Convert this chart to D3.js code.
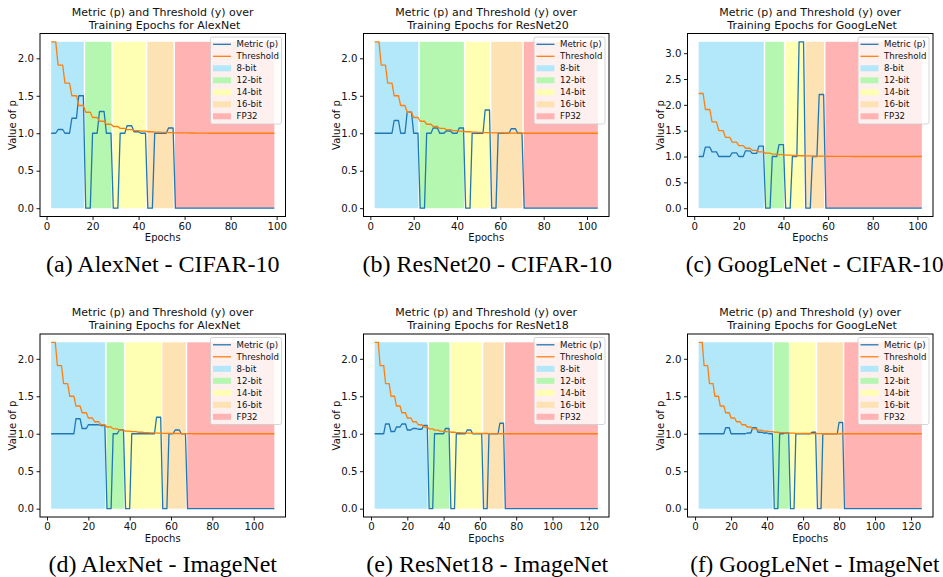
<!DOCTYPE html>
<html><head><meta charset="utf-8">
<script src="https://cdn.jsdelivr.net/npm/d3@7"></script>
<style>body{margin:0;background:#fff}svg{display:block}</style>
</head><body>
<svg id="chart" width="943" height="577"></svg>
<script>
// ---------------- data ----------------
const precisionLabels = ["8-bit", "12-bit", "14-bit", "16-bit", "FP32"];
const seriesLabels = ["Metric (p)", "Threshold"];
const firstEpoch = 2;
const epochsPerStep = 3;
// threshold value held for each 3-epoch step (shared by all runs)
const thresholdLevels = [2.22, 1.91, 1.67, 1.50, 1.37, 1.28, 1.21, 1.16, 1.12, 1.09, 1.065, 1.048, 1.036, 1.027, 1.02, 1.015, 1.011, 1.008, 1.006, 1.004, 1.003, 1.002, 1.001];
const thresholdFloor = 1.0;

// last epoch of each precision phase (8,12,14,16-bit, FP32 = final epoch)
const lastEpochA = [16, 28, 43, 55, 99];
const lastEpochB = [22, 43, 55, 70, 105];
const lastEpochC = [31, 40, 49, 58, 102];
const lastEpochD = [28, 37, 55, 67, 110];
const lastEpochE = [31, 43, 61, 73, 125];
const lastEpochF = [43, 52, 67, 82, 126];

// metric p for each 3-epoch step (0 afterwards, in FP32)
const metricA = [1.0, 1.05, 1.0, 1.2, 1.5, 0, 1.0, 1.29, 1.0, 0, 1.0, 1.1, 1.02, 1.0, 0, 1.0, 1.0, 1.07];
const metricB = [1.0, 1.0, 1.0, 1.17, 1.0, 1.28, 1.0, 0, 1.0, 1.07, 1.0, 1.03, 1.0, 1.07, 0, 1.0, 1.0, 1.31, 0, 1.0, 1.0, 1.06, 1.0];
const metricC = [1.0, 1.18, 1.09, 1.0, 1.0, 1.07, 1.0, 1.11, 1.06, 1.2, 0, 1.0, 1.23, 0, 1.0, 3.22, 0, 1.0, 2.2];
const metricD = [1.0, 1.0, 1.0, 1.0, 1.2, 1.07, 1.12, 1.12, 1.11, 0, 1.0, 1.05, 0, 1.0, 1.0, 1.0, 1.0, 1.22, 0, 1.0, 1.05, 1.0];
const metricE = [1.0, 1.0, 1.13, 1.03, 1.09, 1.13, 1.05, 1.07, 1.06, 1.11, 0, 1.0, 1.0, 1.07, 0, 1.0, 1.0, 1.05, 1.0, 1.0, 0, 1.0, 1.0, 1.14];
const metricF = [1.0, 1.0, 1.0, 1.0, 1.0, 1.08, 1.0, 1.0, 1.0, 1.01, 1.08, 1.02, 1.01, 1.0, 0, 1.0, 1.01, 0, 1.0, 1.0, 1.0, 1.02, 0, 1.0, 1.0, 1.0, 1.15];

const modelNames = ["AlexNet", "ResNet20", "GoogLeNet", "AlexNet", "ResNet18", "GoogLeNet"];
const captions = ["(a) AlexNet - CIFAR-10", "(b) ResNet20 - CIFAR-10", "(c) GoogLeNet - CIFAR-10",
                  "(d) AlexNet - ImageNet", "(e) ResNet18 - ImageNet", "(f) GoogLeNet - ImageNet"];
const xTicksShort = [0, 20, 40, 60, 80, 100];
const xTicksLong = [0, 20, 40, 60, 80, 100, 120];
const yTicksLow = [0, 0.5, 1.0, 1.5, 2.0];
const yTicksHigh = [0, 0.5, 1.0, 1.5, 2.0, 2.5, 3.0];

// ---------------- styles / layout ----------------
const spanColors = ["#b3e7fa", "#b5f7b0", "#ffffb3", "#fde2b3", "#ffb3b3"];
const lineColors = ["#1f77b4", "#ff7f0e"];
const colLeft = [40, 363.5, 687.5];
const rowTop = [33.5, 334];
const captionShift = [0, 1, 4.5];
const captionSize = [24, 24, 23.2];
const axW = 245.5, axH = 183;
const sansFont = "DejaVu Sans";

const panels = [
  {last: lastEpochA, metric: metricA, xTicks: xTicksShort, yTicks: yTicksLow},
  {last: lastEpochB, metric: metricB, xTicks: xTicksShort, yTicks: yTicksLow},
  {last: lastEpochC, metric: metricC, xTicks: xTicksShort, yTicks: yTicksHigh},
  {last: lastEpochD, metric: metricD, xTicks: xTicksShort, yTicks: yTicksLow},
  {last: lastEpochE, metric: metricE, xTicks: xTicksLong, yTicks: yTicksLow},
  {last: lastEpochF, metric: metricF, xTicks: xTicksLong, yTicks: yTicksLow}
];

const svg = d3.select("#chart");

panels.forEach((p, idx) => {
  const col = idx % 3, row = Math.floor(idx / 3);
  const L = colLeft[col], T = rowTop[row], R = L + axW, B = T + axH;
  const endEpoch = p.last[4];
  const epochs = d3.range(firstEpoch, endEpoch + 1);
  const stepOf = e => Math.floor((e - firstEpoch) / epochsPerStep);
  const metricVals = epochs.map(e => { const k = stepOf(e); return k < p.metric.length ? p.metric[k] : 0; });
  const thrVals = epochs.map(e => { const k = stepOf(e); return k < thresholdLevels.length ? thresholdLevels[k] : thresholdFloor; });
  const yMax = Math.max(d3.max(metricVals), d3.max(thrVals));
  const xr = endEpoch - firstEpoch;
  const x = d3.scaleLinear().domain([firstEpoch - 0.05 * xr, endEpoch + 0.05 * xr]).range([L, R]);
  const y = d3.scaleLinear().domain([-0.05 * yMax, 1.05 * yMax]).range([B, T]);

  const g = svg.append("g");

  // precision spans
  precisionLabels.forEach((lab, i) => {
    const s = i === 0 ? firstEpoch : p.last[i - 1] + 0.5;
    const e = i === 4 ? p.last[4] : p.last[i] + 0.5;
    const x0 = x(s) + (i > 0 ? 0.7 : 0);
    const x1 = x(e) - (i < 4 ? 0.7 : 0);
    g.append("rect").attr("x", x0).attr("y", y(yMax)).attr("width", x1 - x0)
      .attr("height", y(0) - y(yMax)).attr("fill", spanColors[i]);
  });

  // lines
  const line = d3.line().x(d => x(d[0])).y(d => y(d[1]));
  g.append("path").datum(epochs.map((e, i) => [e, metricVals[i]]))
    .attr("d", line).attr("fill", "none").attr("stroke", lineColors[0])
    .attr("stroke-width", 1.3).attr("stroke-linejoin", "round");
  g.append("path").datum(epochs.map((e, i) => [e, thrVals[i]]))
    .attr("d", line).attr("fill", "none").attr("stroke", lineColors[1])
    .attr("stroke-width", 1.3).attr("stroke-linejoin", "round");

  // axes
  const xa = g.append("g").attr("transform", `translate(0,${B})`)
    .call(d3.axisBottom(x).tickValues(p.xTicks).tickSize(3.5).tickPadding(2.5).tickFormat(d3.format("d")));
  const ya = g.append("g").attr("transform", `translate(${L},0)`)
    .call(d3.axisLeft(y).tickValues(p.yTicks).tickSize(3.5).tickPadding(2.5).tickFormat(d3.format(".1f")));
  [xa, ya].forEach(a => {
    a.select(".domain").remove();
    a.selectAll("line").attr("stroke", "#000").attr("stroke-width", 0.9);
    a.selectAll("text").attr("font-family", sansFont).attr("font-size", 10.2).attr("fill", "#111");
  });

  // frame
  g.append("rect").attr("x", L).attr("y", T).attr("width", axW).attr("height", axH)
    .attr("fill", "none").attr("stroke", "#000").attr("stroke-width", 1);

  // axis labels
  g.append("text").attr("x", (L + R) / 2).attr("y", B + 24.5).attr("text-anchor", "middle")
    .attr("font-family", sansFont).attr("font-size", 10).attr("fill", "#111").text("Epochs");
  g.append("text").attr("transform", `translate(${L - 24},${(T + B) / 2}) rotate(-90)`)
    .attr("text-anchor", "middle").attr("font-family", sansFont).attr("font-size", 10)
    .attr("fill", "#111").text("Value of p");

  // title
  const cx = (L + R) / 2;
  g.append("text").attr("x", cx).attr("y", T - 17.8).attr("text-anchor", "middle")
    .attr("font-family", sansFont).attr("font-size", 11).attr("fill", "#111")
    .text("Metric (p) and Threshold (y) over");
  g.append("text").attr("x", cx + 1.8).attr("y", T - 4.8).attr("text-anchor", "middle")
    .attr("font-family", sansFont).attr("font-size", 11).attr("fill", "#111")
    .text("Training Epochs for " + modelNames[idx]);

  // legend
  const lw = 71, lh = 87;
  const lx = R - 4 - lw, ly = T + 3.5;
  const lg = g.append("g");
  lg.append("rect").attr("x", lx).attr("y", ly).attr("width", lw).attr("height", lh)
    .attr("rx", 2).attr("fill", "#fff").attr("fill-opacity", 0.8)
    .attr("stroke", "#ccc").attr("stroke-width", 0.8);
  const items = seriesLabels.map((s, i) => ({label: s, type: "line", color: lineColors[i]}))
    .concat(precisionLabels.map((s, i) => ({label: s, type: "patch", color: spanColors[i]})));
  items.forEach((it, i) => {
    const cy = ly + 7.3 + 12 * i;
    if (it.type === "line") {
      lg.append("line").attr("x1", lx + 2.5).attr("x2", lx + 20.5).attr("y1", cy).attr("y2", cy)
        .attr("stroke", it.color).attr("stroke-width", 1.3);
    } else {
      lg.append("rect").attr("x", lx + 2.5).attr("y", cy - 3).attr("width", 18).attr("height", 6)
        .attr("fill", it.color);
    }
    lg.append("text").attr("x", lx + 26).attr("y", cy).attr("dy", "0.35em")
      .attr("font-family", sansFont).attr("font-size", 8.6).attr("fill", "#111").text(it.label);
  });

  // caption
  g.append("text").attr("x", cx + captionShift[col]).attr("y", row === 0 ? 272 : 571.5).attr("text-anchor", "middle")
    .attr("font-family", "Liberation Serif, Times New Roman, serif").attr("font-size", captionSize[col])
    .attr("fill", "#000").text(captions[idx]);
});
</script>
</body></html>
